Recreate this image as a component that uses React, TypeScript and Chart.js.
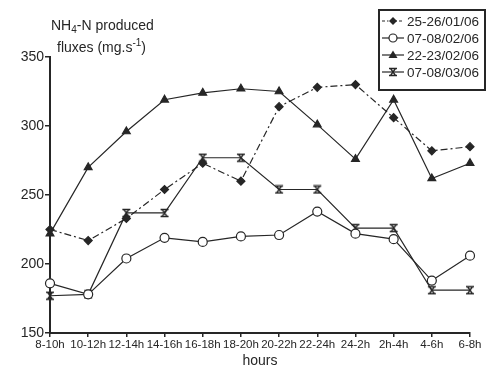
import React, { useEffect, useRef } from 'react';
import { Chart, registerables } from 'chart.js';

Chart.register(...registerables);

const categories = ['8-10h', '10-12h', '12-14h', '14-16h', '16-18h', '18-20h', '20-22h', '22-24h', '24-2h', '2h-4h', '4-6h', '6-8h'];
const seriesNames = ['25-26/01/06', '07-08/02/06', '22-23/02/06', '07-08/03/06'];
const jan25 = [225, 217, 233, 254, 273, 260, 314, 328, 330, 306, 282, 285];
const feb07 = [186, 178, 204, 219, 216, 220, 221, 238, 222, 218, 188, 206];
const feb22 = [222, 270, 296, 319, 324, 327, 325, 301, 276, 319, 262, 273];
const mar07 = [177, 178, 237, 237, 277, 277, 254, 254, 226, 226, 181, 181];
const yMin = 150;
const yMax = 350;
const yStep = 50;

const INK = '#262626';
const FONT = "'Liberation Sans', Arial, sans-serif";
const DASH = [7, 3, 2, 3];

function makeHourglass(): HTMLCanvasElement {
  const c = document.createElement('canvas');
  c.width = 10;
  c.height = 10;
  const g = c.getContext('2d')!;
  g.strokeStyle = INK;
  g.lineWidth = 1.3;
  g.beginPath();
  g.moveTo(1, 1.5); g.lineTo(9, 1.5);
  g.moveTo(1, 8.5); g.lineTo(9, 8.5);
  g.moveTo(2.5, 1.5); g.lineTo(7.5, 8.5);
  g.moveTo(7.5, 1.5); g.lineTo(2.5, 8.5);
  g.stroke();
  return c;
}

function drawMarker(ctx: CanvasRenderingContext2D, kind: number, x: number, y: number, hg: HTMLCanvasElement) {
  ctx.save();
  ctx.setLineDash([]);
  ctx.fillStyle = INK;
  ctx.strokeStyle = INK;
  ctx.lineWidth = 1.2;
  if (kind === 0) {
    ctx.beginPath();
    ctx.moveTo(x, y - 4); ctx.lineTo(x + 4, y); ctx.lineTo(x, y + 4); ctx.lineTo(x - 4, y); ctx.closePath();
    ctx.fill();
  } else if (kind === 1) {
    ctx.beginPath();
    ctx.arc(x, y, 4, 0, Math.PI * 2);
    ctx.fillStyle = '#fff';
    ctx.fill();
    ctx.stroke();
  } else if (kind === 2) {
    ctx.beginPath();
    ctx.moveTo(x, y - 4.5); ctx.lineTo(x + 4.5, y + 3); ctx.lineTo(x - 4.5, y + 3); ctx.closePath();
    ctx.fill();
  } else {
    ctx.drawImage(hg, x - 5, y - 5);
  }
  ctx.restore();
}

export default function App() {
  const ref = useRef<HTMLCanvasElement | null>(null);

  useEffect(() => {
    document.body.style.margin = '0';
    document.body.style.background = '#fff';
    const canvas = ref.current!;
    const hg = makeHourglass();

    const textPlugin = {
      id: 'texts',
      afterDraw(chart: any) {
        const ctx: CanvasRenderingContext2D = chart.ctx;
        ctx.save();
        ctx.fillStyle = INK;
        ctx.textAlign = 'left';
        ctx.textBaseline = 'alphabetic';
        const f = (s: number) => `${s}px ${FONT}`;
        // title line 1
        let x = 51;
        let y = 30;
        ctx.font = f(14);
        ctx.fillText('NH', x, y); x += ctx.measureText('NH').width;
        ctx.font = f(10);
        ctx.fillText('4', x, y + 3); x += ctx.measureText('4').width;
        ctx.font = f(14);
        ctx.fillText('-N produced', x, y);
        // title line 2
        x = 57; y = 52;
        ctx.font = f(14);
        ctx.fillText('fluxes (mg.s', x, y); x += ctx.measureText('fluxes (mg.s').width;
        ctx.font = f(10);
        ctx.fillText('-1', x, y - 6); x += ctx.measureText('-1').width;
        ctx.font = f(14);
        ctx.fillText(')', x, y);
        // x title
        ctx.textAlign = 'center';
        ctx.font = f(14);
        ctx.fillText('hours', 260, 365);
        // legend
        ctx.lineWidth = 2;
        ctx.strokeStyle = INK;
        ctx.strokeRect(379, 10, 106, 80);
        const rows = [21, 38, 55, 72];
        ctx.textAlign = 'left';
        ctx.textBaseline = 'middle';
        ctx.font = f(13.5);
        seriesNames.forEach((name, i) => {
          const ry = rows[i];
          ctx.save();
          ctx.lineWidth = 1.2;
          ctx.setLineDash(i === 0 ? [3, 2, 1.5, 2] : []);
          ctx.beginPath();
          ctx.moveTo(382, ry); ctx.lineTo(404, ry);
          ctx.stroke();
          ctx.restore();
          drawMarker(ctx, i, 393, ry, hg);
          ctx.fillStyle = INK;
          ctx.fillText(name, 407, ry + 1);
        });
        ctx.restore();
      },
    };

    const base = {
      borderColor: INK,
      borderWidth: 1.2,
      pointBorderColor: INK,
      pointBorderWidth: 1.2,
      tension: 0,
      clip: false as any,
      fill: false,
    };

    const chart = new Chart(canvas, {
      type: 'line',
      data: {
        labels: categories,
        datasets: [
          { ...base, label: seriesNames[0], data: jan25, borderDash: DASH, pointStyle: 'rectRot', pointRadius: 4, pointBackgroundColor: INK },
          { ...base, label: seriesNames[1], data: feb07, pointStyle: 'circle', pointRadius: 4.5, pointBackgroundColor: '#fff' },
          { ...base, label: seriesNames[2], data: feb22, pointStyle: 'triangle', pointRadius: 4.5, pointBackgroundColor: INK },
          { ...base, label: seriesNames[3], data: mar07, pointStyle: hg as any, pointRadius: 5, pointBackgroundColor: INK },
        ],
      },
      options: {
        responsive: false,
        animation: false,
        devicePixelRatio: 1,
        layout: { padding: { left: 0, top: 57, right: 19, bottom: 0 } },
        plugins: { legend: { display: false }, tooltip: { enabled: false } },
        scales: {
          x: {
            type: 'category',
            offset: false,
            grid: { drawOnChartArea: false, drawTicks: true, tickLength: 4, color: INK, lineWidth: 1.5 },
            border: { display: true, color: INK, width: 2 },
            ticks: { color: INK, font: { family: FONT, size: 11.5 }, autoSkip: false, maxRotation: 0, minRotation: 0, padding: 1 },
            afterFit: (s: any) => { s.height = 34; },
          },
          y: {
            min: yMin,
            max: yMax,
            grid: { drawOnChartArea: false, drawTicks: true, tickLength: 5, color: INK, lineWidth: 1.5 },
            border: { display: true, color: INK, width: 2 },
            ticks: { stepSize: yStep, color: INK, font: { family: FONT, size: 14 }, padding: 1 },
            afterFit: (s: any) => { s.width = 50; },
          },
        },
      },
      plugins: [textPlugin],
    });
    return () => chart.destroy();
  }, []);

  return (
    <canvas ref={ref} width={489} height={367} style={{ display: 'block', width: 489, height: 367 }} />
  );
}
